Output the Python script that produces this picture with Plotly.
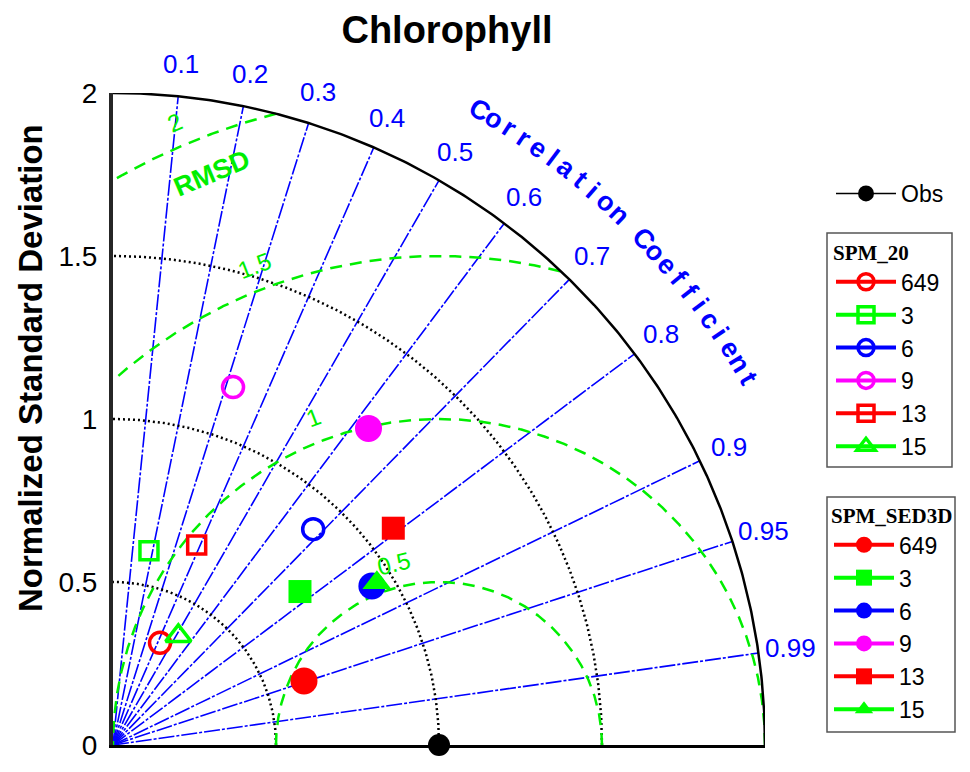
import numpy as np
import plotly.graph_objects as go

# ---------------- data ----------------
model_names = ["649", "3", "6", "9", "13", "15"]
model_colors = ["#FF0000", "#00FF00", "#0000FF", "#FF00FF", "#FF0000", "#00FF00"]
spm20_symbols = ["circle-open", "square-open", "circle-open", "circle-open", "square-open", "triangle-up-open"]
sed3d_symbols = ["circle", "square", "circle", "circle", "square", "triangle-up"]

spm20_std = [0.345, 0.606, 0.903, 1.158, 0.665, 0.390]
spm20_corr = [0.418, 0.182, 0.680, 0.318, 0.386, 0.514]
sed3d_std = [0.618, 0.742, 0.932, 1.248, 1.087, 0.950]
sed3d_corr = [0.948, 0.773, 0.852, 0.628, 0.791, 0.852]

obs_std = 1.0
std_max = 2.0
std_ticks = [0, 0.5, 1, 1.5, 2]
std_ticktext = ["0", "0.5", "1", "1.5", "2"]
dotted_std_levels = [0.5, 1.0, 1.5]
corr_ticks = [0.1, 0.2, 0.3, 0.4, 0.5, 0.6, 0.7, 0.8, 0.9, 0.95, 0.99]
corr_ticktext = ["0.1", "0.2", "0.3", "0.4", "0.5", "0.6", "0.7", "0.8", "0.9", "0.95", "0.99"]
rmsd_levels = [0.5, 1.0, 1.5, 2.0]
rmsd_ticktext = ["0.5", "1", "1.5", "2"]

# ---------------- styles ----------------
FONT = "Liberation Sans, Arial, sans-serif"
SERIF = "Liberation Serif, Times New Roman, serif"
BLUE = "#0000FF"
GREEN = "#00EE00"
size_map = {"circle-open": 21, "square-open": 18, "triangle-up-open": 22,
            "circle": 27, "square": 23, "triangle-up": 25}

# the page body adds an 8px offset; figure coordinates = screen - OFF
OFF = 8


def to_xy(std, corr):
    s = np.asarray(std, float)
    c = np.asarray(corr, float)
    return s * c, s * np.sqrt(1 - c ** 2)


def d2p(v):
    # data value -> paper fraction (axes span 0..std_max over the whole plot area)
    return v / std_max


fig = go.Figure()

# correlation rays
for c in corr_ticks:
    fig.add_trace(go.Scatter(x=[0, std_max * c], y=[0, std_max * np.sqrt(1 - c * c)],
                             mode="lines", line=dict(color=BLUE, width=1.6, dash="16px,2px,3px,2px"),
                             showlegend=False, hoverinfo="skip"))

# std dotted arcs
th = np.linspace(0, np.pi / 2, 300)
for r in dotted_std_levels:
    fig.add_trace(go.Scatter(x=r * np.cos(th), y=r * np.sin(th), mode="lines",
                             line=dict(color="black", width=2.5, dash="2px,3px"),
                             showlegend=False, hoverinfo="skip"))

# RMSD arcs around obs
phi = np.linspace(0, np.pi, 1200)
for R in rmsd_levels:
    x = obs_std + R * np.cos(phi)
    y = R * np.sin(phi)
    ok = (x >= 0) & (x ** 2 + y ** 2 <= std_max ** 2)
    fig.add_trace(go.Scatter(x=x[ok], y=y[ok], mode="lines",
                             line=dict(color=GREEN, width=2.5, dash="12px,8px"),
                             showlegend=False, hoverinfo="skip"))

# outer arc
fig.add_trace(go.Scatter(x=std_max * np.cos(th), y=std_max * np.sin(th), mode="lines",
                         line=dict(color="black", width=2.5), showlegend=False,
                         hoverinfo="skip", cliponaxis=False))

# Obs
fig.add_trace(go.Scatter(x=[obs_std], y=[0], mode="lines+markers", name="Obs",
                         marker=dict(color="black", size=22),
                         line=dict(color="black", width=1.5),
                         cliponaxis=False, legend="legend"))

# models
for group, stds, corrs, symbols, leg in [
    ("SPM_20", spm20_std, spm20_corr, spm20_symbols, "legend2"),
    ("SPM_SED3D", sed3d_std, sed3d_corr, sed3d_symbols, "legend3"),
]:
    xs, ys = to_xy(stds, corrs)
    for i, name in enumerate(model_names):
        sym = symbols[i]
        is_open = sym.endswith("-open")
        fig.add_trace(go.Scatter(
            x=[xs[i]], y=[ys[i]], mode="lines+markers", name=name, legend=leg,
            marker=dict(symbol=sym, size=size_map[sym], color=model_colors[i],
                        line=dict(color=model_colors[i], width=3.5 if is_open else 0)),
            line=dict(color=model_colors[i], width=4),
            cliponaxis=False,
        ))

annotations = []
# correlation tick labels
for c, t in zip(corr_ticks, corr_ticktext):
    a = np.arccos(c)
    annotations.append(dict(x=d2p(2.1 * np.cos(a)), y=d2p(2.1 * np.sin(a)), xref="paper", yref="paper",
                            text=t, showarrow=False, xanchor="center", yanchor="middle",
                            font=dict(family=FONT, size=26, color=BLUE)))

# curved "Correlation Coefficient"
label = "Correlation Coefficient"
n = len(label)
for i, ch in enumerate(label):
    if ch == " ":
        continue
    ang = 60 - i * 30 / (n - 1)
    ar = np.deg2rad(ang)
    annotations.append(dict(x=d2p(2.25 * np.cos(ar)), y=d2p(2.25 * np.sin(ar)), xref="paper", yref="paper",
                            text=ch, showarrow=False, xanchor="center", yanchor="middle",
                            textangle=90 - ang,
                            font=dict(family=FONT, size=27, color=BLUE, weight="bold")))

# RMSD labels
rmsd_label_angles = [104, 111, 111, 113]
for R, t, ang in zip(rmsd_levels, rmsd_ticktext, rmsd_label_angles):
    ar = np.deg2rad(ang)
    rr = R + 0.075
    annotations.append(dict(x=d2p(obs_std + rr * np.cos(ar)), y=d2p(rr * np.sin(ar)),
                            xref="paper", yref="paper", text=t,
                            showarrow=False, xanchor="center", yanchor="middle", textangle=-(ang - 90),
                            font=dict(family=FONT, size=24, color=GREEN)))
annotations.append(dict(x=d2p(0.305), y=d2p(1.755), xref="paper", yref="paper", text="RMSD", showarrow=False,
                        xanchor="center", yanchor="middle", textangle=-23,
                        font=dict(family=FONT, size=27, color=GREEN, weight="bold")))

# screen-pixel -> paper helpers (plot area: x 113..765, y 93..745 on screen)
def px_x(p):
    return (p - 113) / 652


def px_y(p):
    return (745 - p) / 652


# y-axis title
annotations.append(dict(x=px_x(30), y=px_y(368), xref="paper", yref="paper",
                        text="Normalized Standard Deviation", showarrow=False, textangle=-90,
                        xanchor="center", yanchor="middle",
                        font=dict(family=FONT, size=33, color="black", weight="bold")))

shapes = [
    dict(type="rect", xref="paper", yref="paper", x0=px_x(827), x1=px_x(952), y0=px_y(467), y1=px_y(233),
         line=dict(color="#555555", width=1.5)),
    dict(type="rect", xref="paper", yref="paper", x0=px_x(827), x1=px_x(955), y0=px_y(732), y1=px_y(497),
         line=dict(color="#555555", width=1.5)),
]

legfont = dict(family=FONT, size=23, color="black")
L, T = 113 - OFF, 93 - OFF
fig.update_layout(
    width=970, height=772, autosize=False,
    margin=dict(l=L, r=970 - L - 652, t=T, b=772 - T - 652, pad=0, autoexpand=False),
    paper_bgcolor="white", plot_bgcolor="white",
    hovermode=False,
    title=dict(text="Chlorophyll", x=(447 - OFF) / 970, xref="container", xanchor="center",
               y=1 - (30 - OFF) / 772, yref="container", yanchor="middle",
               font=dict(family=FONT, size=38, color="black", weight="bold")),
    xaxis=dict(range=[0, 2], showgrid=False, zeroline=False, showticklabels=False, ticks="",
               showline=True, linecolor="black", linewidth=3, fixedrange=True),
    yaxis=dict(range=[0, 2], showgrid=False, zeroline=False, tickvals=std_ticks, ticktext=std_ticktext,
               ticks="", tickfont=dict(family=FONT, size=28, color="black"),
               showline=True, linecolor="#262626", linewidth=4, ticklabelstandoff=6, fixedrange=True),
    legend=dict(x=px_x(831), y=px_y(172), xanchor="left", yanchor="top", bgcolor="rgba(0,0,0,0)",
                borderwidth=0, font=legfont, itemwidth=60),
    legend2=dict(x=px_x(831), y=px_y(233), xanchor="left", yanchor="top", bgcolor="rgba(0,0,0,0)",
                 borderwidth=0, font=legfont, itemwidth=60,
                 title=dict(text="SPM_20", font=dict(family=SERIF, size=21, color="black", weight="bold"))),
    legend3=dict(x=px_x(829), y=px_y(496), xanchor="left", yanchor="top", bgcolor="rgba(0,0,0,0)",
                 borderwidth=0, font=legfont, itemwidth=60,
                 title=dict(text="SPM_SED3D", font=dict(family=SERIF, size=21, color="black", weight="bold"))),
    annotations=annotations,
    shapes=shapes,
)

fig.write_html("out.html")
